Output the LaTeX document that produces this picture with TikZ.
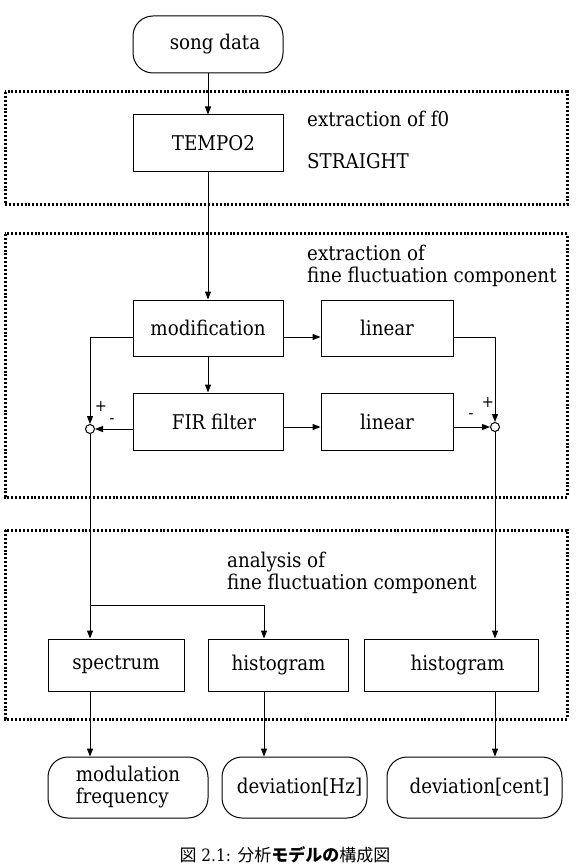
\documentclass[tikz,border=0pt]{standalone}
\usepackage{fontspec}
\setmainfont{DejaVu Serif Condensed}
\newfontfamily\cjk{Noto Sans CJK JP}
\usetikzlibrary{arrows.meta}

\tikzset{
  procbox/.style={draw, line width=1pt, inner sep=0pt},
  endbox/.style={procbox, rounded corners=20pt},
  stagebox/.style={draw, line width=3pt, dash pattern=on 2pt off 1.9pt},
  flow/.style={line width=1pt, -{Triangle[length=8pt,width=6pt]}},
  sumpt/.style={circle, draw, fill=white, line width=1pt, minimum size=9pt, inner sep=0pt},
  sign/.style={font=\fontsize{16}{16}\selectfont, inner sep=0pt},
}

\begin{document}
\begin{tikzpicture}[x=1pt, y=-1pt, font=\fontsize{20.3}{22}\selectfont]
  \fill[white] (0,0) rectangle (577,866);
  \useasboundingbox (0,0) rectangle (577,866);

  % stage frames
  \draw[stagebox] (5,92) rectangle (567,205);
  \draw[stagebox] (5,234) rectangle (567,497);
  \draw[stagebox] (5,530) rectangle (567,719);

  \node[anchor=west, inner sep=0pt] (f0lbl) at (307,119) {extraction of f0};
  \node[anchor=west, inner sep=0pt] (strlbl) at (307,161) {STRAIGHT};
  \node[anchor=west, align=left, inner sep=0pt] (extlbl) at (307,266)
    {extraction of\\fine fluctuation component};
  \node[anchor=west, align=left, inner sep=0pt] (anlbl) at (227,573)
    {analysis of\\fine fluctuation component};

  % input and f0 extraction
  \node[endbox, minimum width=150pt, minimum height=57pt] (song) at (208,44.5) {\hspace*{14pt}song data};
  \node[procbox, minimum width=150pt, minimum height=57pt] (tempo) at (208,143.5) {\hspace*{11pt}TEMPO2};

  % fine fluctuation extraction
  \node[procbox, minimum width=150pt, minimum height=56pt] (modif) at (208,328) {modification};
  \node[procbox, minimum width=132pt, minimum height=56pt] (lin1) at (387,328) {linear};
  \node[procbox, minimum width=150pt, minimum height=57pt] (fir) at (208,421.5) {\hspace*{12pt}FIR filter};
  \node[procbox, minimum width=132pt, minimum height=57pt] (lin2) at (387,421.5) {linear};
  \node[sumpt] (sumL) at (90,429) {};
  \node[sumpt] (sumR) at (495,427) {};
  \node[sign] (plusL) at (101,406) {+};
  \node[sign] (minusL) at (112,421) {-};
  \node[sign] (plusR) at (488,402) {+};
  \node[sign] (minusR) at (471,416) {-};

  % analysis
  \node[procbox, minimum width=136pt, minimum height=52pt] (spec) at (116,665) {spectrum};
  \node[procbox, minimum width=140pt, minimum height=52pt] (hist1) at (278.5,665) {histogram};
  \node[procbox, minimum width=174pt, minimum height=52pt] (hist2) at (451,665) {\hspace*{13pt}histogram};

  % outputs
  \node[endbox, minimum width=160pt, minimum height=61pt, align=left] (modfreq) at (128,787.5)
    {modulation\\frequency};
  \node[endbox, minimum width=145pt, minimum height=61pt] (devhz) at (294.5,787.5) {\hspace*{10pt}deviation[Hz]};
  \node[endbox, minimum width=175pt, minimum height=61pt] (devcent) at (474.5,787.5) {\hspace*{10pt}deviation[cent]};

  \coordinate (split) at (90,605);
  \coordinate (branch) at (264,605);

  \draw[flow] (song) -- (tempo);
  \draw[flow] (tempo) -- (modif);
  \draw[flow] (modif) -- (fir);
  \draw[flow] ([yshift=-9pt]modif.east) -- ([yshift=-9pt]lin1.west);
  \draw[flow] ([yshift=-5.5pt]fir.east) -- ([yshift=-5.5pt]lin2.west);
  \draw[flow] ([yshift=-9pt]modif.west) -| (sumL);
  \draw[flow] ([yshift=-7.5pt]fir.west) -- (sumL);
  \draw[flow] ([yshift=-9pt]lin1.east) -| (sumR);
  \draw[flow] ([yshift=-5.5pt]lin2.east) -- (sumR);

  \draw[flow] (sumL) -- (split |- spec.north);
  \draw[flow] (split) -- (branch) -- (branch |- hist1.north);
  \draw[flow] (sumR) -- (sumR |- hist2.north);
  \draw[flow] (split |- spec.south) -- (split |- modfreq.north);
  \draw[flow] (branch |- hist1.south) -- (branch |- devhz.north);
  \draw[flow] (sumR |- hist2.south) -- (sumR |- devcent.north);

  \node[inner sep=0pt] (caption) at (285,855)
    {\fontsize{17}{17}\selectfont{\cjk 図} 2.1: {\cjk 分析{\bfseries モデルの}構成図}};
\end{tikzpicture}
\end{document}
